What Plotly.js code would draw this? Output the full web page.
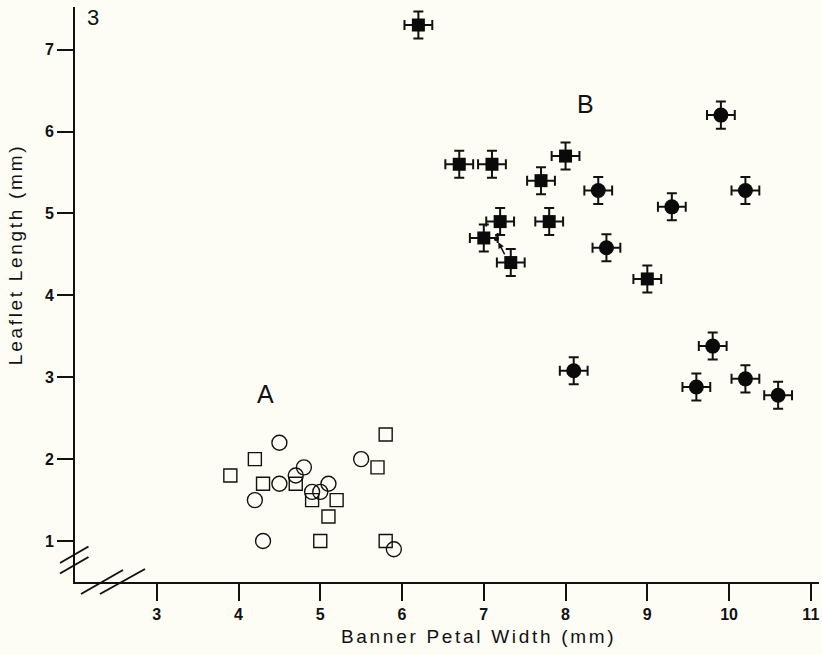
<!DOCTYPE html>
<html>
<head>
<meta charset="utf-8">
<script src="https://cdn.plot.ly/plotly-3.0.1.min.js"></script>
<style>
html,body{margin:0;padding:0;background:#fdfdf6;}
#chart{width:822px;height:655px;}
g.annotation[data-index="0"] text, g.annotation[data-index="1"] text{letter-spacing:2.7px;}
</style>
</head>
<body>
<div id="chart"></div>
<script>
// Group A (open symbols)
const aCircleX = [4.5, 4.8, 4.7, 4.5, 4.2, 5.1, 4.9, 5.0, 5.5, 4.3, 5.9];
const aCircleY = [2.2, 1.9, 1.8, 1.7, 1.5, 1.7, 1.6, 1.6, 2.0, 1.0, 0.9];
const aSquareX = [5.8, 4.2, 3.9, 4.3, 4.7, 5.7, 4.9, 5.2, 5.1, 5.0, 5.8];
const aSquareY = [2.3, 2.0, 1.8, 1.7, 1.7, 1.9, 1.5, 1.5, 1.3, 1.0, 1.0];
// Group B (filled symbols with error bars)
const bSquareX = [6.2, 6.7, 7.1, 8.0, 7.7, 7.2, 7.8, 7.0, 7.33, 9.0];
const bSquareY = [7.3, 5.6, 5.6, 5.7, 5.4, 4.9, 4.9, 4.7, 4.4, 4.2];
const bCircleX = [9.9, 8.4, 9.3, 10.2, 8.5, 8.1, 9.8, 9.6, 10.2, 10.6];
const bCircleY = [6.2, 5.28, 5.08, 5.28, 4.58, 3.08, 3.38, 2.88, 2.98, 2.78];
const errX = 0.17;
const errY = 0.165;
// small marked point with arrow
const dotX = [7.155];
const dotY = [4.69];
// axis ticks
const xTicks = [3, 4, 5, 6, 7, 8, 9, 10, 11];
const yTicks = [1, 2, 3, 4, 5, 6, 7];

const ebx = {type:'constant', value:errX, color:'#111', thickness:2, width:5};
const eby = {type:'constant', value:errY, color:'#111', thickness:2, width:5};

const traces = [
  {x:aCircleX, y:aCircleY, mode:'markers', type:'scatter', name:'A circles',
   marker:{symbol:'circle-open', size:15, color:'#111', line:{width:1.4, color:'#111'}}},
  {x:aSquareX, y:aSquareY, mode:'markers', type:'scatter', name:'A squares',
   marker:{symbol:'square-open', size:13, color:'#111', line:{width:1.4, color:'#111'}}},
  {x:bSquareX, y:bSquareY, mode:'markers', type:'scatter', name:'B squares',
   error_x:ebx, error_y:eby,
   marker:{symbol:'square', size:13, color:'#0a0a0a'}},
  {x:bCircleX, y:bCircleY, mode:'markers', type:'scatter', name:'B circles',
   error_x:ebx, error_y:eby,
   marker:{symbol:'circle', size:15, color:'#0a0a0a'}},
  {x:dotX, y:dotY, mode:'markers', type:'scatter', name:'dot',
   marker:{symbol:'circle', size:5, color:'#111'}}
];

const tickFont = {family:'Liberation Sans', size:16, weight:'bold', color:'#111'};
const titleFont = {family:'Liberation Sans, Arial, sans-serif', size:19, color:'#111'};

function px2paperX(px){ return (px-75)/744; }
function px2paperY(py){ return (582-py)/575; }

const layout = {
  width:822, height:655,
  font:{family:'Liberation Sans', size:16, color:'#111'},
  margin:{l:75, r:3, t:7, b:73, pad:0},
  paper_bgcolor:'#fdfdf6', plot_bgcolor:'#fdfdf6',
  showlegend:false,
  xaxis:{range:[2, 11.1], tickmode:'array', tickvals:xTicks,
    ticks:'outside', ticklen:17, tickwidth:2, tickcolor:'#111',
    showline:true, linewidth:2, linecolor:'#111', showgrid:false, zeroline:false,
    tickfont:tickFont},
  yaxis:{range:[0.5, 7.52], tickmode:'array', tickvals:yTicks,
    ticks:'outside', ticklen:16, tickwidth:2, tickcolor:'#111',
    showline:true, linewidth:2, linecolor:'#111', showgrid:false, zeroline:false,
    tickfont:tickFont},
  annotations:[
    {text:'Banner Petal Width (mm)', xref:'paper', yref:'paper', x:px2paperX(478), y:px2paperY(636),
     xanchor:'center', yanchor:'middle', showarrow:false, font:titleFont},
    {text:'Leaflet Length (mm)', xref:'paper', yref:'paper', x:px2paperX(14.5), y:px2paperY(255),
     xanchor:'center', yanchor:'middle', textangle:-90, showarrow:false, font:titleFont},
    {text:'3', xref:'paper', yref:'paper', x:px2paperX(92.5), y:px2paperY(18),
     xanchor:'center', yanchor:'middle', showarrow:false,
     font:{family:'Liberation Sans, Arial, sans-serif', size:22, color:'#111'}},
    {text:'A', xref:'x', yref:'y', x:4.33, y:2.79, xanchor:'center', yanchor:'middle', showarrow:false,
     font:{family:'Liberation Sans, Arial, sans-serif', size:25, color:'#111'}},
    {text:'B', xref:'x', yref:'y', x:8.24, y:6.34, xanchor:'center', yanchor:'middle', showarrow:false,
     font:{family:'Liberation Sans, Arial, sans-serif', size:25, color:'#111'}},
    {text:'', xref:'x', yref:'y', x:dotX[0], y:dotY[0], ax:9, ay:17, showarrow:true,
     arrowhead:2, arrowsize:0.8, arrowwidth:1.5, arrowcolor:'#111', standoff:4}
  ],
  shapes:[
    // axis break marks on y axis
    {type:'line', xref:'paper', yref:'paper', x0:px2paperX(60), y0:px2paperY(563), x1:px2paperX(88.5), y1:px2paperY(546.5), line:{color:'#111', width:2}},
    {type:'line', xref:'paper', yref:'paper', x0:px2paperX(60), y0:px2paperY(573.5), x1:px2paperX(88.5), y1:px2paperY(557), line:{color:'#111', width:2}},
    // axis break marks on x axis
    {type:'line', xref:'paper', yref:'paper', x0:px2paperX(81), y0:px2paperY(594), x1:px2paperX(123), y1:px2paperY(570), line:{color:'#111', width:2}},
    {type:'line', xref:'paper', yref:'paper', x0:px2paperX(100), y0:px2paperY(594), x1:px2paperX(145), y1:px2paperY(569), line:{color:'#111', width:2}}
  ]
};

Plotly.newPlot('chart', traces, layout, {displayModeBar:false, staticPlot:true});
</script>
</body>
</html>
